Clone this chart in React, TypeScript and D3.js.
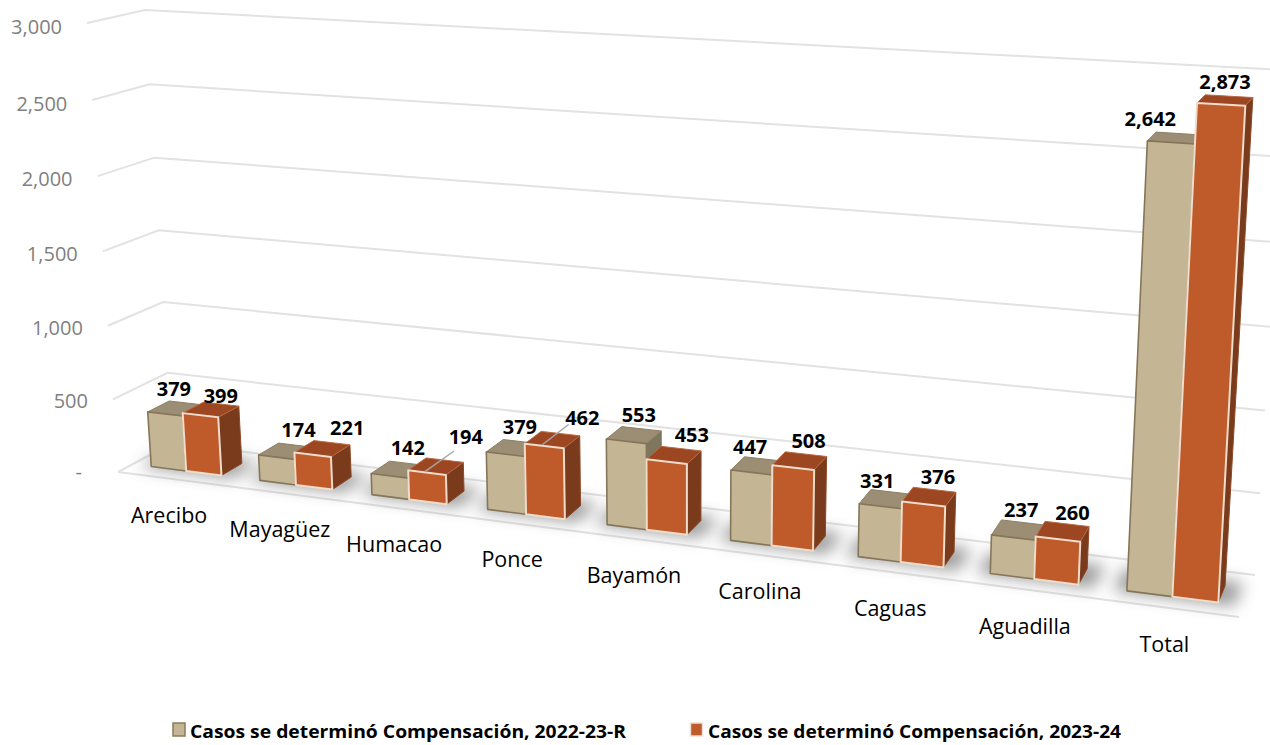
import React from "react";
import * as d3 from "d3";

const categories = ["Arecibo", "Mayagüez", "Humacao", "Ponce", "Bayamón", "Carolina", "Caguas", "Aguadilla", "Total"];
const series2223 = [379, 174, 142, 379, 553, 447, 331, 237, 2642];
const series2324 = [399, 221, 194, 462, 453, 508, 376, 260, 2873];
const ticks = [0, 500, 1000, 1500, 2000, 2500, 3000];
const legendNames = ["Casos se determinó Compensación, 2022-23-R", "Casos se determinó Compensación, 2023-24"];

const W = 1270, H = 745;
type Pt = [number, number];
const FLB: Pt = [118, 472], FRB: Pt = [1239, 617], BLB: Pt = [172, 443], BRB: Pt = [1255, 575];
const FLT: Pt = [87, 23], FRT: Pt = [1268, 90], BLT: Pt = [145, 10], BRT: Pt = [1286, 70];
const R_X = 1.16, R_V = 1.035;
const Z_FRONT = 0.27, Z_BACK = 0.67;
const BAR_HALF = 0.325;

const band = d3.scaleBand<string>().domain(categories).range([0, 1]);
const vScale = d3.scaleLinear().domain([0, 3000]).range([0, 1]);
const warp = (t: number, r: number) => t / (t + r * (1 - t));
const mix = (a: Pt, b: Pt, k: number): Pt => [a[0] + (b[0] - a[0]) * k, a[1] + (b[1] - a[1]) * k];

function project(t: number, v: number, z: number): Pt {
  const w = warp(t, R_X);
  const V = warp(vScale(v), R_V);
  const bottom = mix(mix(FLB, FRB, w), mix(BLB, BRB, w), z);
  const top = mix(mix(FLT, FRT, w), mix(BLT, BRT, w), z);
  return mix(bottom, top, V);
}
const path = d3.line<Pt>();
const poly = (pts: Pt[]) => path(pts) + "Z";

const COLORS = [
  { front: "#C4B595", top: "#9B8E75", side: "#7F7660", stroke: "#857659", strokeW: 1.6 },
  { front: "#BF5A2B", top: "#9C4620", side: "#7A3A1B", stroke: "#EFDCCB", strokeW: 2 },
];

// label nudges from the top centre of each bar
const labelDx = [
  [-2, 12, 9, 6, 5, -8, -9, 3, -25],
  [10, 25, 30, 30, 18, 9, 9, 10, 0],
];
const labelDy = [
  [-12, -14, -15, -14, -13, -12, -11, -13, -12],
  [-7, -14, -22, -15, -13, -13, -13, -12, -11],
];
const leaderIdx = [2, 3];

function Bar({ i, s, v }: { i: number; s: number; v: number }) {
  const bw = band.bandwidth();
  const c = band(categories[i])! + bw / 2;
  const t0 = s === 0 ? c - bw * BAR_HALF : c;
  const t1 = s === 0 ? c : c + bw * BAR_HALF;
  const col = COLORS[s];
  const fb0 = project(t0, 0, Z_FRONT), fb1 = project(t1, 0, Z_FRONT), bb1 = project(t1, 0, Z_BACK);
  const ft0 = project(t0, v, Z_FRONT), ft1 = project(t1, v, Z_FRONT), bt0 = project(t0, v, Z_BACK), bt1 = project(t1, v, Z_BACK);
  const sw = { stroke: col.stroke, strokeWidth: col.strokeW, strokeLinejoin: "round" as const };
  return (
    <g>
      <path d={poly([fb1, bb1, bt1, ft1])} fill={col.side} stroke={s === 0 ? "#7F7054" : "#8d4a28"} strokeWidth={1} />
      <path d={poly([ft0, ft1, bt1, bt0])} fill={col.top} stroke={s === 0 ? "#8c7f66" : "#B56A45"} strokeWidth={1} />
      <path d={poly([fb0, fb1, ft1, ft0])} fill={col.front} {...sw} />
    </g>
  );
}

export default function App() {
  const bw = band.bandwidth();
  const centers = categories.map((d) => band(d)! + bw / 2);
  const grid = "#E2E2E2";
  return (
    <svg width={W} height={H} viewBox={`0 0 ${W} ${H}`} style={{ position: "absolute", left: 0, top: 0, background: "#fff" }}>
      <defs>
        <filter id="sh" x="-40%" y="-80%" width="180%" height="260%">
          <feGaussianBlur stdDeviation="8" />
        </filter>
        <filter id="soft" x="-5%" y="-5%" width="110%" height="110%">
          <feGaussianBlur stdDeviation="0.4" />
        </filter>
      </defs>
      {ticks.map((v) => {
        const p = project(0, v, 0);
        return (
          <g key={v}>
            <path d={path([p, project(0, v, 1), project(1, v, 1)])!} fill="none" stroke={grid} strokeWidth={2} />
            <text x={p[0] - (v === 0 ? 36 : 25)} y={p[1] + (v === 0 ? 7 : 7 + (v / 3000) * 3 + 1)} textAnchor="end" fontFamily="Open Sans" fontSize={20} fill="#7F7F7F">
              {v === 0 ? "-" : d3.format(",")(v)}
            </text>
          </g>
        );
      })}
      <path d={path([project(0, 0, 0), project(1, 0, 0)])!} fill="none" stroke={grid} strokeWidth={2} />
      {categories.map((d, i) => {
        const tA = centers[i] - bw * 0.42, tB = centers[i] + bw * 0.44;
        return (
          <path key={d} d={poly([project(tA, 0, Z_FRONT - 0.04), project(tB, 0, Z_FRONT - 0.04), project(tB, 0, Z_BACK + 0.12), project(tA, 0, Z_BACK + 0.12)])}
            fill="#4a4a4a" opacity={0.55} filter="url(#sh)" />
        );
      })}
      <g filter="url(#soft)">
        {categories.map((d, i) => (
          <g key={d}>
            <Bar i={i} s={0} v={series2223[i]} />
            <Bar i={i} s={1} v={series2324[i]} />
          </g>
        ))}
      </g>
      {leaderIdx.map((i) => {
        const t = centers[i] + bw * BAR_HALF * 0.42;
        const a = project(t, series2324[i], Z_FRONT + 0.02);
        const b = project(t, series2324[i], Z_FRONT + 0.68);
        return <line key={i} x1={a[0]} y1={a[1]} x2={b[0]} y2={b[1]} stroke="#A6A6A6" strokeWidth={1.5} />;
      })}
      {[series2223, series2324].map((vals, s) =>
        vals.map((v, i) => {
          const t = centers[i] + (s === 0 ? -1 : 1) * bw * BAR_HALF * 0.5;
          const p = project(t, v, (Z_FRONT + Z_BACK) / 2);
          return (
            <text key={s + "-" + i} x={p[0] + labelDx[s][i]} y={p[1] + labelDy[s][i]} textAnchor="middle" fontFamily="Open Sans" fontWeight={700} fontSize={20} fill="#000">
              {d3.format(",")(v)}
            </text>
          );
        })
      )}
      {categories.map((d, i) => {
        const p = project(centers[i], 0, 0);
        return (
          <text key={d} x={p[0] - 3} y={p[1] + 44} textAnchor="middle" fontFamily="Open Sans" fontSize={21.5} fill="#000">
            {d}
          </text>
        );
      })}
      {legendNames.map((name, s) => (
        <g key={name}>
          <rect x={s === 0 ? 173 : 690.5} y={723} width={12} height={13} fill={COLORS[s].front} stroke={s === 0 ? "#8a7b5e" : "#EADFD5"} strokeWidth={1.5} />
          <text x={s === 0 ? 190 : 708} y={738} fontFamily="Open Sans" fontWeight={700} fontSize={17} fill="#000" textLength={s === 0 ? 436 : 413} lengthAdjust="spacingAndGlyphs">
            {name}
          </text>
        </g>
      ))}
    </svg>
  );
}
